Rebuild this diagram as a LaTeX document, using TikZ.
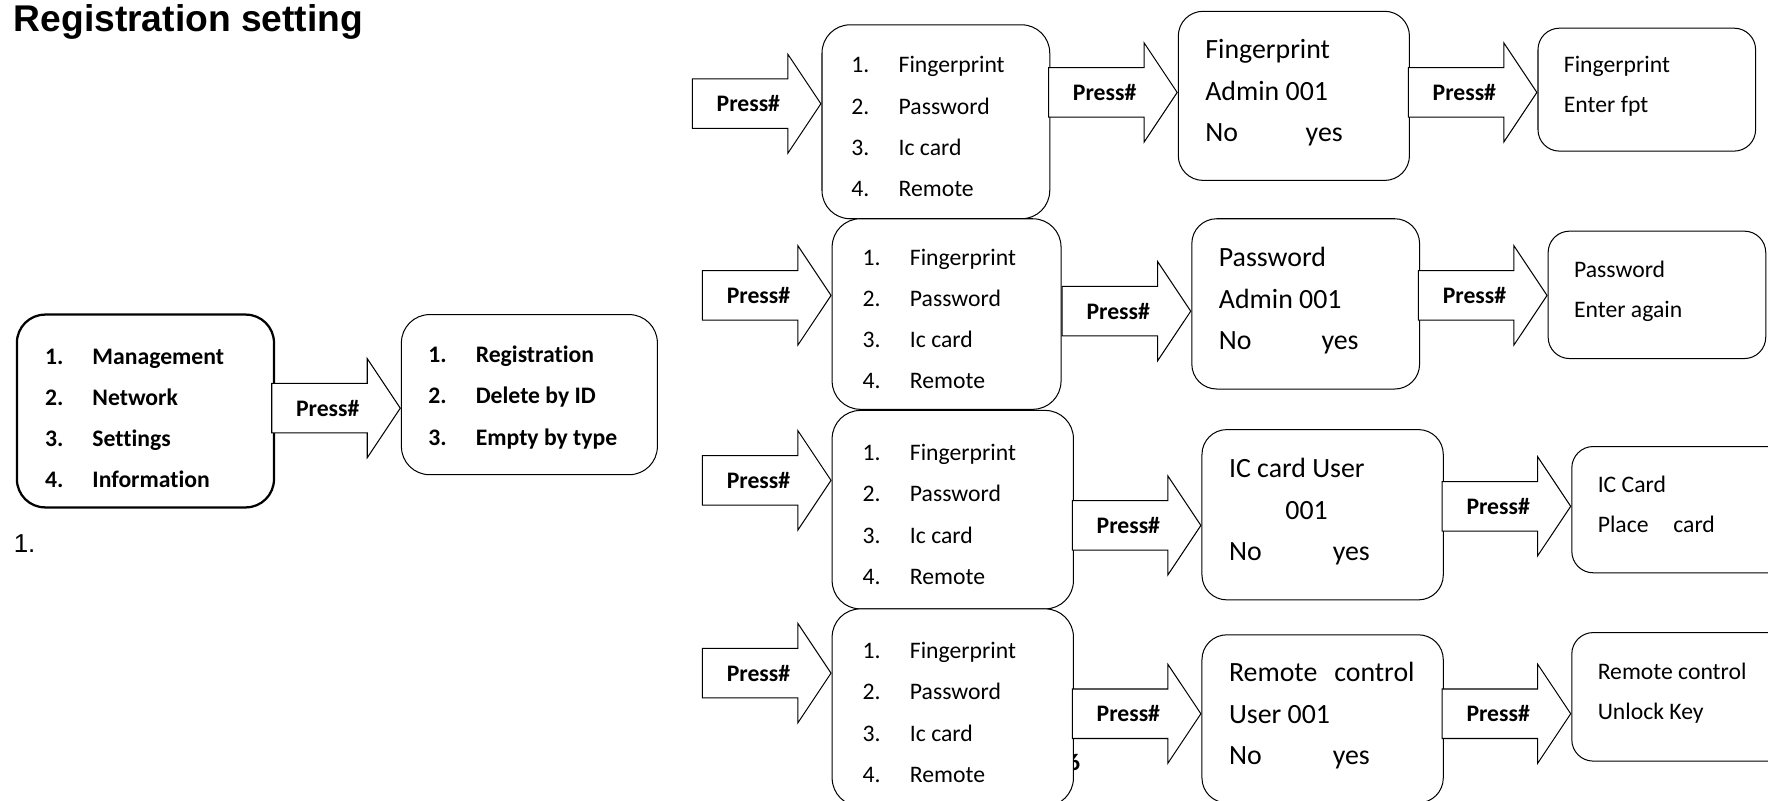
\documentclass[tikz,border=0pt]{standalone}
\usepackage{fontspec}
\setmainfont{Carlito}[Ligatures=NoCommon]
\newfontfamily\arialfont{Liberation Sans}
\usetikzlibrary{shapes.arrows}
\newcommand{\menuno}[1]{\makebox[42pt][l]{#1}}
\begin{document}
\begin{tikzpicture}[x=1pt, y=-1pt]
    \tikzstyle{menu} = [rectangle, draw, line width=0.9pt, fill=white, rounded corners=25pt, align=left, inner xsep=27pt, inner ysep=0pt, text height=14pt, text depth=100.8pt, execute at begin node={\spaceskip=0pt\relax}, font=\fontsize{21}{36.6}\selectfont]
    \tikzstyle{screen} = [menu, rounded corners=22pt, inner xsep=24pt, text height=16pt, text depth=81.6pt, font=\fontsize{24.7}{36.8}\selectfont]
    \tikzstyle{prompt} = [screen, rounded corners=19pt, inner xsep=23pt, text width=147pt, text height=14pt, text depth=45pt, font=\fontsize{21}{36}\selectfont]
    \tikzstyle{press} = [single arrow, draw, line width=0.9pt, fill=white, anchor=tip, minimum height=114pt, single arrow head extend=22pt, single arrow tip angle=112.6, inner xsep=0pt, inner ysep=14.5pt, text height=14pt, text depth=0pt, font=\bfseries\fontsize{21}{25}\selectfont]
    \useasboundingbox (0,0) rectangle (1568,710);
    \clip (0,0) rectangle (1568,710);

    \node (title) [anchor=base west, inner sep=0pt, font=\arialfont\bfseries\fontsize{33}{40}\selectfont] at (12,28) {Registration setting};
    \node (note) [anchor=base west, inner sep=0pt, font=\arialfont\fontsize{23}{28}\selectfont] at (12,490) {1.};

    % main menu and management menu
    \node (mainMenu) [menu, line width=2pt, inner xsep=25pt, text width=178pt, minimum height=171pt, text depth=95.9pt, font=\bfseries\fontsize{21}{36.3}\selectfont] at (129,364.5) {\menuno{1.}Management\\ \menuno{2.}Network\\ \menuno{3.}Settings\\ \menuno{4.}Information};
    \node (manageMenu) [menu, inner xsep=24pt, text width=179pt, minimum height=142pt, text depth=71.5pt, font=\bfseries\fontsize{21}{37}\selectfont] at (469.5,350) {\menuno{1.}Registration\\ \menuno{2.}Delete by ID\\ \menuno{3.}Empty by type};
    \node (pressManage) [press] at (manageMenu.west |- 0,362) {Press\#};

    \node (pageNo) [anchor=base west, inner sep=0pt, font=\bfseries\fontsize{21}{25}\selectfont] at (947,683) {6};

    % registration type menus
    \node (typeFp) [menu, inner xsep=26pt, text width=150pt, minimum height=172pt] at (830,108) {\menuno{1.}Fingerprint\\ \menuno{2.}Password\\ \menuno{3.}Ic card\\ \menuno{4.}Remote};
    \node (typePw) [menu, text width=149pt, minimum height=169pt] at (839.5,278.5) {\menuno{1.}Fingerprint\\ \menuno{2.}Password\\ \menuno{3.}Ic card\\ \menuno{4.}Remote};
    \node (typeIc) [menu, text width=160pt, minimum height=176pt] at (845,452) {\menuno{1.}Fingerprint\\ \menuno{2.}Password\\ \menuno{3.}Ic card\\ \menuno{4.}Remote};
    \node (typeRc) [menu, text width=160pt, minimum height=175pt] at (845,627.5) {\menuno{1.}Fingerprint\\ \menuno{2.}Password\\ \menuno{3.}Ic card\\ \menuno{4.}Remote};

    \node (adminFp) [screen, text width=157pt, minimum height=150pt] at (1147.5,85) {Fingerprint\\ Admin 001\\ \makebox[89pt][l]{No}yes};
    \node (adminPw) [screen, text width=154pt, minimum height=151pt] at (1158,269.5) {Password\\ Admin 001\\ \makebox[91pt][l]{No}yes};
    \node (userIc) [screen, text width=166pt, minimum height=151pt] at (1173,456.5) {IC card User\\ \hspace*{50pt}001\\ \makebox[92pt][l]{No}yes};
    \node (userRc) [screen, text width=166pt, minimum height=149pt] at (1173,637.5) {\mbox{Remote\hspace{15pt}control}\\ User 001\\ \makebox[92pt][l]{No}yes};

    \node (enterFp) [prompt, minimum height=109pt] at (1460.5,79.5) {Fingerprint\\ Enter fpt};
    \node (enterPw) [prompt, minimum height=113pt] at (1469.5,261.5) {Password\\ Enter again};
    \node (placeIc) [prompt, minimum height=112pt] at (1490.5,452) {IC Card\\ \mbox{Place\hspace{22pt}card}};
    \node (unlockRc) [prompt, minimum height=114pt] at (1490.5,618) {Remote control\\ Unlock Key};

    \node (pressFp) [press] at (typeFp.west |- 0,92) {Press\#};
    \node (pressPw) [press] at (typePw.west |- 0,262) {Press\#};
    \node (pressIc) [press] at (typeIc.west |- 0,426) {Press\#};
    \node (pressRc) [press] at (typeRc.west |- 0,597) {Press\#};

    \node (pressAdminFp) [press] at (adminFp.west |- 0,82) {Press\#};
    \node (pressAdminPw) [press] at (adminPw.west |- 0,276) {Press\#};
    \node (pressUserIc) [press] at (userIc.west |- 0,466) {Press\#};
    \node (pressUserRc) [press] at (userRc.west |- 0,633) {Press\#};

    \node (pressEnterFp) [press] at (enterFp.west |- 0,82) {Press\#};
    \node (pressEnterPw) [press] at (enterPw.west |- 0,262) {Press\#};
    \node (pressPlaceIc) [press] at (placeIc.west |- 0,449) {Press\#};
    \node (pressUnlockRc) [press] at (unlockRc.west |- 0,633) {Press\#};

\end{tikzpicture}
\end{document}
